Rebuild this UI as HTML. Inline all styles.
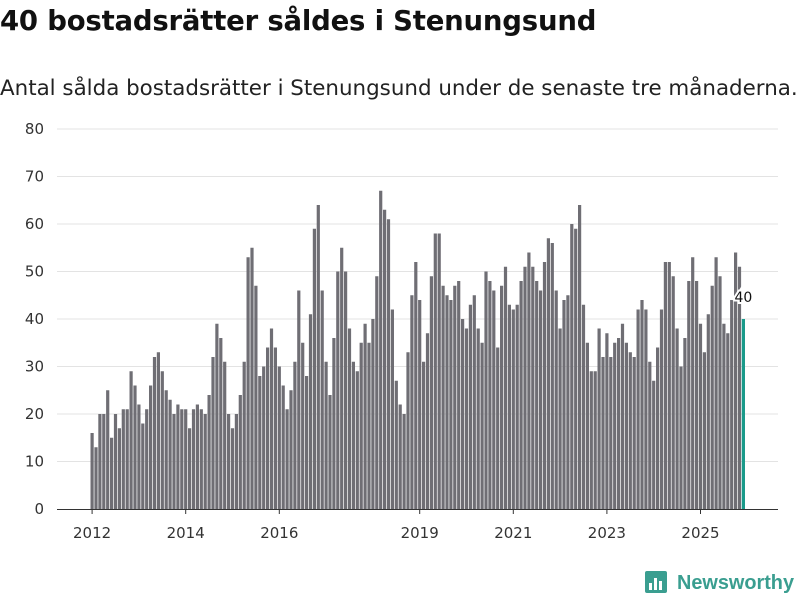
<!DOCTYPE html>
<html><head><meta charset="utf-8"><style>
body{margin:0;background:#fff;font-family:"Liberation Sans","DejaVu Sans",sans-serif;}
#wrap{position:relative;width:800px;height:600px;overflow:hidden;}
h1{position:absolute;left:0;top:5px;margin:0;font-size:27.5px;font-weight:bold;color:#111;font-family:"DejaVu Sans","Liberation Sans",sans-serif;letter-spacing:-0.2px;white-space:nowrap}
.sub{position:absolute;left:0;top:76px;font-size:21.4px;color:#222;font-family:"DejaVu Sans","Liberation Sans",sans-serif;white-space:nowrap}
</style></head><body>
<div id="wrap">
<h1>40 bostadsrätter såldes i Stenungsund</h1>
<div class="sub">Antal sålda bostadsrätter i Stenungsund under de senaste tre månaderna.</div>
<svg id="chart" width="800" height="600" style="position:absolute;left:0;top:0"></svg>
</div>
<script>
const values = [16,13,20,20,25,15,20,17,21,21,29,26,
22,18,21,26,32,33,29,25,23,20,22,21,
21,17,21,22,21,20,24,32,
39,36,31,20,17,20,24,31,53,55,47,28,30,34,38,34,
30,26,21,25,31,46,35,28,41,59,64,46,31,24,36,50,
55,50,38,31,29,35,39,35,40,49,67,63,61,42,27,22,20,33,45,52,44,31,37,49,58,58,47,45,44,47,48,40,
38,43,45,38,35,50,48,46,34,47,51,43,42,43,48,51,54,51,48,46,52,57,56,46,38,44,45,60,59,64,
43,35,29,29,38,32,37,32,35,36,39,35,33,32,42,44,42,31,27,34,42,52,52,49,38,30,36,48,53,48,39,33,41,47,53,49,39,37,44,54,51,40];
const yTicks = [0,10,20,30,40,50,60,70,80];
const xTickYears = [2012,2014,2016,2019,2021,2023,2025];
const startYear = 2012;

const NS="http://www.w3.org/2000/svg";
const svg=document.getElementById('chart');
function el(t,a){const e=document.createElementNS(NS,t);for(const k in a)e.setAttribute(k,a[k]);svg.appendChild(e);return e;}
const plotL=57,plotR=778,y0=509,yTop=129,yMax=80;
const bandL=90.5,pitch=3.9,barW=3.2;
function y(v){return y0-(v/yMax)*(y0-yTop);}
function xi(i){return bandL+i*pitch;}

yTicks.forEach(t=>{
  if(t>0){const g=el('line',{x1:plotL,x2:plotR,y1:y(t),y2:y(t),stroke:'#e3e3e3','stroke-width':1});
  
  }
  const tx=el('text',{x:44,y:y(t)+5,'text-anchor':'end','font-size':15,fill:'#333','font-family':'DejaVu Sans, Liberation Sans, sans-serif'});
  tx.textContent=t;
  
  
});

values.forEach((v,i)=>{
  const last=i===values.length-1;
  const r=el('rect',{x:xi(i),y:y(v),width:barW,height:y0-y(v),fill:last?'#1a9a8a':'#6f6e74'});
  
  
});

const ax=el('line',{x1:plotL,x2:plotR,y1:y0+0.5,y2:y0+0.5,stroke:'#333','stroke-width':1});



xTickYears.forEach(yr=>{
  const i=(yr-startYear)*12;
  const cx=xi(i)+barW/2;
  const tk=el('line',{x1:cx,x2:cx,y1:y0,y2:y0+5,stroke:'#333','stroke-width':1});
  
  
  const tx=el('text',{x:cx,y:538,'text-anchor':'middle','font-size':15,fill:'#333','font-family':'DejaVu Sans, Liberation Sans, sans-serif'});
  tx.textContent=yr;
  
  
});

const li=values.length-1;
const lx=xi(li)+barW/2, ly=y(values[li])-17;
const lbl=el('text',{x:lx,y:ly,'text-anchor':'middle','font-size':14,fill:'#111',stroke:'#fff','stroke-width':4,'paint-order':'stroke','font-family':'DejaVu Sans, Liberation Sans, sans-serif'});
lbl.textContent=values[li];



// logo
const box=el('rect',{x:645,y:571,width:22,height:22,rx:2,fill:'#3a9e90'});


[[649,583,3,7],[654,578,3,12],[659,581,3,9]].forEach(b=>{
  const r=el('rect',{x:b[0],y:b[1],width:b[2],height:b[3],fill:'#fff'});
  
  
});
const lt=el('text',{x:677,y:589,'font-size':20,'font-weight':'bold',fill:'#3a9e90','font-family':'Liberation Sans, DejaVu Sans, sans-serif',textLength:117,lengthAdjust:'spacingAndGlyphs'});
lt.textContent='Newsworthy';


</script>
</body></html>
